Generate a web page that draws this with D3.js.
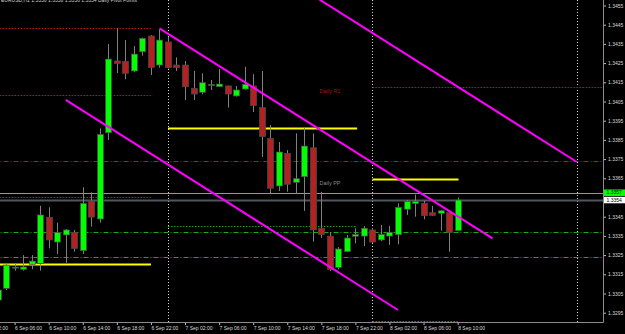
<!DOCTYPE html>
<html>
<head>
<meta charset="utf-8">
<script src="https://cdn.jsdelivr.net/npm/d3@7"></script>
<style>
  body { margin: 0; background: #000; }
  svg { display: block; background: #000; }
  text { font-family: "Liberation Sans", Arial, sans-serif; }
</style>
</head>
<body>
<svg width="625" height="334"></svg>
<script>
// hourly bars, first bar = 6 Sep 04:00
const firstBar = Date.UTC(2013, 8, 6, 4);
const opens  = [1.33016,1.33077,1.33186,1.33176,1.33202,1.33207,1.33447,1.33318,1.33355,1.33369,1.33273,1.33532,1.33438,1.33887,1.34261,1.34259,1.34209,1.34309,1.34391,1.34240,1.34360,1.34240,1.34240,1.34119,1.34098,1.34133,1.34127,1.34131,1.34079,1.34115,1.34131,1.34019,1.33858,1.33610,1.33780,1.33629,1.33658,1.33809,1.33390,1.33349,1.33186,1.33268,1.33348,1.33349,1.33381,1.33329,1.33349,1.33356,1.33489,1.33518,1.33520,1.33471,1.33468,1.33471,1.33377];
const highs  = [1.33079,1.33204,1.33207,1.33250,1.33250,1.33507,1.33499,1.33419,1.33386,1.33381,1.33603,1.33577,1.33910,1.34349,1.34431,1.34370,1.34339,1.34383,1.34396,1.34426,1.34387,1.34280,1.34261,1.34210,1.34197,1.34162,1.34219,1.34133,1.34131,1.34231,1.34192,1.34209,1.33928,1.33839,1.33797,1.33884,1.33912,1.33883,1.33579,1.33370,1.33292,1.33355,1.33390,1.33402,1.33391,1.33407,1.33402,1.33520,1.33537,1.33565,1.33533,1.33506,1.33485,1.33474,1.33549];
const lows   = [1.33006,1.33068,1.33169,1.33169,1.33176,1.33169,1.33285,1.33256,1.33210,1.33268,1.33256,1.33398,1.33419,1.33849,1.34198,1.34166,1.34204,1.34289,1.34188,1.34226,1.34222,1.34209,1.34058,1.34058,1.34088,1.34110,1.34126,1.34018,1.34076,1.34112,1.33995,1.33761,1.33572,1.33584,1.33580,1.33573,1.33480,1.33320,1.33339,1.33167,1.33176,1.33266,1.33311,1.33297,1.33313,1.33323,1.33303,1.33306,1.33459,1.33450,1.33436,1.33454,1.33377,1.33268,1.33375];
const closes = [1.33068,1.33198,1.33187,1.33188,1.33219,1.33459,1.33329,1.33367,1.33381,1.33285,1.33520,1.33448,1.33879,1.34271,1.34248,1.34197,1.34297,1.34379,1.34227,1.34370,1.34226,1.34227,1.34127,1.34089,1.34148,1.34139,1.34141,1.34089,1.34110,1.34140,1.34029,1.33868,1.33598,1.33787,1.33619,1.33648,1.33818,1.33381,1.33358,1.33176,1.33282,1.33339,1.33358,1.33390,1.33318,1.33358,1.33369,1.33499,1.33530,1.33530,1.33455,1.33457,1.33481,1.33369,1.33537];

const priceTicks = [1.3295,1.3305,1.3315,1.3325,1.3335,1.3345,1.3365,1.3375,1.3385,1.3395,1.3405,1.3415,1.3425,1.3435,1.3445,1.3455];
// time ticks: hours after 6 Sep 00:00
const timeTicks = [2,6,10,14,18,22,26,30,34,38,42,46,50,54,58];
const daySeparators = [24, 48, 72];

// pivot style levels: [kind, price, fromHour, toHour]
const levels = [
  ['prevR', 1.34431, 0, 22],
  ['prevR', 1.34084, 0, 22],
  ['prevR', 1.33551, 0, 22],
  ['pivotY', 1.33205, 0, 22],
  ['pivotY', 1.33914, 24, 46.2],
  ['greenDot', 1.33402, 24, 46.2],
  ['r1', 1.34124, 48, 80],
  ['pivotY', 1.33646, 48, 58.1],
  ['greenDot', 1.32908, 48, 58],
  ['redDashDot', 1.33740, 0, 80],
  ['greenDashDot', 1.33368, 0, 80],
  ['greenDashDot', 1.33239, 0, 80],
  ['ask', 1.33572, 0, 80],
  ['bid', 1.33537, 0, 80]
];
// channel lines: [hour, price] pairs
const channelLow  = [[12, 1.34058], [51, 1.32964]];
const channelHigh = [[23, 1.34431], [62.1, 1.33337]];
const channelTop  = [[40, 1.34631], [72, 1.33735]];

const svg = d3.select('svg');
const plotW = 603;
const plotH = 322;

const hourToDate = h => new Date(Date.UTC(2013, 8, 6) + h * 3600e3);
const bars = opens.map((o, i) => ({
  t: new Date(firstBar + i * 3600e3), o, h: highs[i], l: lows[i], c: closes[i]
}));

const xScale = d3.scaleUtc()
  .domain([hourToDate(4.284), hourToDate(75.06)])
  .range([0, plotW]);
const yScale = d3.scaleLinear()
  .domain([1.3295, 1.3455])
  .range([312.7, 5.5]);

svg.append('defs').append('clipPath').attr('id', 'plot')
  .append('rect').attr('width', plotW).attr('height', plotH);

const g = svg.append('g').attr('clip-path', 'url(#plot)');

const levelStyle = {
  prevR:        { stroke: '#c81010', dash: '1.5,1.5', w: 1 },
  r1:           { stroke: '#c81010', dash: '1.5,1.5', w: 1 },
  redDashDot:   { stroke: '#c81010', dash: '5,2,1,2', w: 1 },
  pivotY:       { stroke: '#ffff00', dash: null, w: 2 },
  greenDot:     { stroke: '#10a010', dash: '1.5,1.5', w: 1 },
  greenDashDot: { stroke: '#10b010', dash: '5,2,1,2', w: 1 },
  ask:          { stroke: '#00ff00', dash: null, w: 1 },
  bid:          { stroke: '#505560', dash: null, w: 2 }
};

// day separators
g.selectAll('line.day')
  .data(daySeparators)
  .join('line')
  .attr('class', 'day')
  .attr('x1', d => Math.round(xScale(hourToDate(d))) + 0.5)
  .attr('x2', d => Math.round(xScale(hourToDate(d))) + 0.5)
  .attr('y1', 0).attr('y2', plotH)
  .attr('stroke', '#d8d8d8')
  .attr('stroke-dasharray', '1,2');

g.selectAll('line.level')
  .data(levels)
  .join('line')
  .attr('class', 'level')
  .attr('x1', d => xScale(hourToDate(d[2])))
  .attr('x2', d => xScale(hourToDate(d[3])))
  .attr('y1', d => Math.round(yScale(d[1])) + 0.5)
  .attr('y2', d => Math.round(yScale(d[1])) + 0.5)
  .attr('stroke', d => levelStyle[d[0]].stroke)
  .attr('stroke-width', d => levelStyle[d[0]].w)
  .attr('stroke-dasharray', d => levelStyle[d[0]].dash);

// pivot labels
g.append('text')
  .attr('x', xScale(hourToDate(48)) - 53)
  .attr('y', yScale(1.34124) + 5.5)
  .attr('fill', '#b01010')
  .attr('font-size', 5.5)
  .text('Daily R1');
g.append('text')
  .attr('x', xScale(hourToDate(48)) - 53)
  .attr('y', yScale(1.33646) + 5.5)
  .attr('fill', '#8a8a8a')
  .attr('font-size', 5.5)
  .text('Daily PP');

// candles
const candle = g.selectAll('g.bar')
  .data(bars)
  .join('g')
  .attr('class', 'bar')
  .attr('transform', d => `translate(${Math.round(xScale(d.t))}, 0)`);

candle.append('line')
  .attr('x1', 0.5).attr('x2', 0.5)
  .attr('y1', d => yScale(d.h))
  .attr('y2', d => yScale(d.l))
  .attr('stroke', '#808080');

candle.append('rect')
  .attr('x', -2.5)
  .attr('width', 6)
  .attr('y', d => yScale(Math.max(d.o, d.c)))
  .attr('height', d => Math.max(1, Math.abs(yScale(d.o) - yScale(d.c))))
  .attr('fill', d => d.c >= d.o ? '#00ff00' : '#b22222')
  .attr('stroke', '#4a4a4a')
  .attr('stroke-width', 0.7);

// channel lines
const line = d3.line()
  .x(d => xScale(hourToDate(d[0])))
  .y(d => yScale(d[1]));

g.selectAll('path.channel')
  .data([channelLow, channelHigh, channelTop])
  .join('path')
  .attr('class', 'channel')
  .attr('d', line)
  .attr('fill', 'none')
  .attr('stroke', '#ff00ff')
  .attr('stroke-width', 2);

// header (mostly cut off at the top)
svg.append('text')
  .attr('x', 1).attr('y', 1.5)
  .attr('fill', '#cfcfcf')
  .attr('font-size', 5)
  .text('EURUSD,H1  1.3356 1.3358 1.3350 1.3354   Daily Pivot Points');

// axes frame
svg.append('line')
  .attr('x1', plotW + 0.5).attr('x2', plotW + 0.5)
  .attr('y1', 0).attr('y2', plotH + 0.5)
  .attr('stroke', '#8c8c8c');
svg.append('line')
  .attr('x1', 0).attr('x2', plotW + 0.5)
  .attr('y1', plotH + 0.5).attr('y2', plotH + 0.5)
  .attr('stroke', '#8c8c8c');

const yAxis = d3.axisRight(yScale)
  .tickValues(priceTicks)
  .tickFormat(d3.format('.4f'))
  .tickSize(2)
  .tickPadding(2);
const yAxisGroup = svg.append('g')
  .attr('transform', `translate(${plotW + 1}, 0)`)
  .call(yAxis);
yAxisGroup.select('.domain').remove();
yAxisGroup.selectAll('line').attr('stroke', '#bbb');
yAxisGroup.selectAll('text')
  .attr('fill', '#d8d8d8')
  .attr('font-size', 5)
  .attr('font-family', '"Liberation Sans", Arial, sans-serif');

// price tags
const tags = [[1.33572, '#00ff00'], [1.33537, '#ffffff']];
const tag = svg.selectAll('g.tag')
  .data(tags)
  .join('g')
  .attr('class', 'tag')
  .attr('transform', d => `translate(${plotW + 1}, ${yScale(d[0])})`);
tag.append('rect')
  .attr('x', 0).attr('y', (d, i) => i ? -3.2 : -3.8)
  .attr('width', 21).attr('height', 6.5)
  .attr('fill', d => d[1]);
tag.append('text')
  .attr('x', 2.5).attr('y', (d, i) => i ? 1.8 : 1.2)
  .attr('font-size', 5)
  .attr('fill', '#000')
  .text(d => d[0].toFixed(4));

const xAxis = d3.axisBottom(xScale)
  .tickValues(timeTicks.map(hourToDate))
  .tickFormat(d3.utcFormat('%-d %b %H:%M'))
  .tickSize(2)
  .tickPadding(1);
const xAxisGroup = svg.append('g')
  .attr('transform', `translate(0, ${plotH + 1})`)
  .call(xAxis);
xAxisGroup.select('.domain').remove();
xAxisGroup.selectAll('line').attr('stroke', '#bbb');
xAxisGroup.selectAll('text')
  .attr('fill', '#d8d8d8')
  .attr('font-size', 5)
  .attr('text-anchor', 'start')
  .attr('dx', 0)
  .attr('font-family', '"Liberation Sans", Arial, sans-serif');
</script>
</body>
</html>
